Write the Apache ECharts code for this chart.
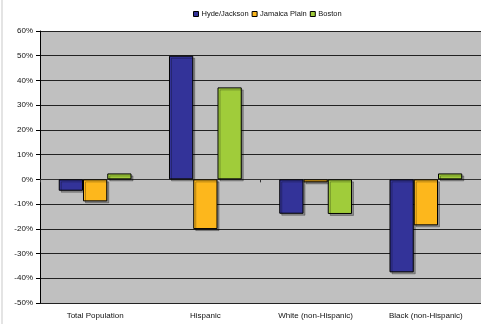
<!DOCTYPE html>
<html><head><meta charset="utf-8">
<script src="https://cdn.jsdelivr.net/npm/echarts@6/dist/echarts.min.js"></script>
<style>html,body{margin:0;padding:0;background:#fff}#c{width:481px;height:324px}</style>
</head><body><div id="c"></div>
<script>
const categories = ['Total Population', 'Hispanic', 'White (non-Hispanic)', 'Black (non-Hispanic)'];
const hydeJackson = [-4.6, 50, -13.9, -37.6];
const jamaicaPlain = [-8.9, -20.1, -1.2, -18.6];
const boston = [2.4, 37.2, -14, 2.4];
const seriesNames = ['Hyde/Jackson', 'Jamaica Plain', 'Boston'];
const colors = ['#333399', '#FDB71C', '#A0CC3A'];

const font = '"Liberation Sans Narrow", "Liberation Sans", Arial, sans-serif';
const chart = echarts.init(document.getElementById('c'), null, {renderer: 'canvas'});
const barStyle = (c) => ({
  color: c, borderColor: '#000', borderWidth: 1,
  shadowColor: 'rgba(0,0,0,0.28)', shadowOffsetX: 2, shadowOffsetY: 2, shadowBlur: 0
});
chart.setOption({
  animation: false,
  color: colors,
  graphic: [{type: 'rect', shape: {x: 1, y: 0, width: 2, height: 324}, style: {fill: '#e4e4e4'}, silent: true}],
  legend: {
    top: 5, left: 188,
    itemWidth: 5, itemHeight: 5, itemGap: 3,
    icon: 'rect',
    textStyle: {fontFamily: font, fontSize: 7.5, color: '#111', padding: [0, 0, 0, -2]},
    data: seriesNames.map((n, i) => ({name: n, itemStyle: {borderColor: '#000', borderWidth: 1}}))
  },
  grid: {left: 40, top: 31, width: 443, bottom: 21, backgroundColor: '#C0C0C0', show: true, borderWidth: 0},
  xAxis: [{
    type: 'category', data: categories,
    axisLine: {show: false, onZero: false}, axisTick: {show: false},
    axisLabel: {fontFamily: font, fontSize: 8, color: '#111', margin: 9}
  }, {
    type: 'category', data: categories, position: 'bottom',
    axisLine: {show: true, onZero: true, lineStyle: {color: '#333', width: 1}},
    axisTick: {show: true, length: 3, lineStyle: {color: '#333'}},
    axisLabel: {show: false}
  }],
  yAxis: {
    type: 'value', min: -50, max: 60, interval: 10,
    axisLine: {show: true, lineStyle: {color: '#000', width: 1}},
    axisTick: {show: true, length: 4, lineStyle: {color: '#000'}},
    axisLabel: {formatter: '{value}%', fontFamily: font, fontSize: 8, color: '#111', margin: 7},
    splitLine: {show: true, lineStyle: {color: '#222', width: 1}}
  },
  series: [
    {name: seriesNames[0], type: 'bar', data: hydeJackson, barGap: '0%', barCategoryGap: '34%', itemStyle: barStyle(colors[0])},
    {name: seriesNames[1], type: 'bar', data: jamaicaPlain, barGap: '0%', barCategoryGap: '34%', itemStyle: barStyle(colors[1])},
    {name: seriesNames[2], type: 'bar', data: boston, barGap: '0%', barCategoryGap: '34%', itemStyle: barStyle(colors[2])}
  ]
});
</script></body></html>
